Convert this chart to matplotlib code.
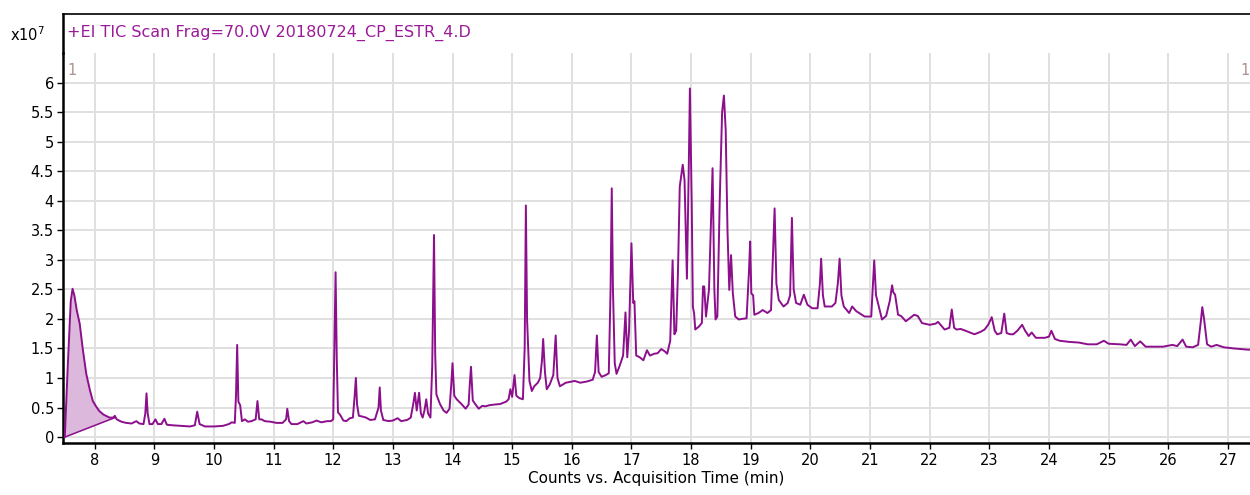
import numpy as np
import matplotlib
matplotlib.use("Agg")
import matplotlib.pyplot as plt
from matplotlib.lines import Line2D

plt.rcParams['font.family'] = ['DejaVu Sans']
plt.rcParams['mathtext.default'] = 'regular'

# chromatogram: time (min), counts (x1e7)
time_min = [
    7.50, 7.55, 7.60, 7.63, 7.66, 7.70, 7.75, 7.80, 7.86, 7.92, 7.97, 8.03, 8.08, 8.15,
    8.25, 8.31, 8.34, 8.37, 8.45, 8.53, 8.62, 8.70, 8.75, 8.82, 8.85, 8.87, 8.89, 8.92,
    8.97, 9.02, 9.06, 9.12, 9.17, 9.21, 9.30, 9.45, 9.60, 9.68, 9.72, 9.76, 9.85, 10.00,
    10.15, 10.25, 10.30, 10.35, 10.37, 10.39, 10.41, 10.44, 10.47, 10.52, 10.57, 10.63,
    10.70, 10.73, 10.76, 10.80, 10.85, 10.95, 11.05, 11.15, 11.21, 11.23, 11.26, 11.30,
    11.40, 11.50, 11.55, 11.65, 11.72, 11.80, 11.90, 11.96, 12.00, 12.02, 12.04, 12.06,
    12.08, 12.12, 12.17, 12.22, 12.28, 12.33, 12.36, 12.38, 12.40, 12.43, 12.48, 12.55,
    12.62, 12.70, 12.76, 12.78, 12.80, 12.84, 12.93, 13.00, 13.08, 13.14, 13.24, 13.30,
    13.34, 13.37, 13.40, 13.44, 13.47, 13.50, 13.53, 13.56, 13.59, 13.63, 13.66, 13.69,
    13.71, 13.73, 13.79, 13.85, 13.90, 13.95, 13.98, 14.00, 14.03, 14.07, 14.15, 14.22,
    14.27, 14.29, 14.31, 14.34, 14.38, 14.44, 14.50, 14.55, 14.62, 14.70, 14.80, 14.90,
    14.94, 14.97, 15.00, 15.04, 15.07, 15.12, 15.18, 15.21, 15.23, 15.25, 15.29, 15.33,
    15.37, 15.43, 15.47, 15.50, 15.52, 15.55, 15.58, 15.63, 15.69, 15.73, 15.76, 15.80,
    15.90, 16.05, 16.14, 16.25, 16.35, 16.39, 16.42, 16.45, 16.50, 16.57, 16.62, 16.65,
    16.67, 16.69, 16.72, 16.75, 16.80, 16.86, 16.90, 16.93, 16.96, 17.00, 17.03, 17.05,
    17.08, 17.14, 17.20, 17.26, 17.31, 17.38, 17.44, 17.50, 17.56, 17.60, 17.65, 17.69,
    17.72, 17.75, 17.78, 17.81, 17.86, 17.89, 17.93, 17.96, 17.98, 18.01, 18.03, 18.05,
    18.07, 18.13, 18.18, 18.20, 18.22, 18.25, 18.30, 18.36, 18.39, 18.41, 18.44, 18.48,
    18.52, 18.55, 18.58, 18.61, 18.64, 18.67, 18.70, 18.74, 18.80, 18.85, 18.93, 18.97,
    18.99, 19.01, 19.04, 19.06, 19.13, 19.20, 19.28, 19.34, 19.37, 19.40, 19.43, 19.47,
    19.55, 19.62, 19.66, 19.69, 19.72, 19.76, 19.83, 19.89, 19.95, 20.03, 20.12, 20.16,
    20.18, 20.21, 20.24, 20.36, 20.42, 20.46, 20.49, 20.52, 20.56, 20.65, 20.70, 20.77,
    20.91, 21.02, 21.05, 21.07, 21.10, 21.14, 21.20, 21.27, 21.33, 21.37, 21.39, 21.42,
    21.47, 21.52, 21.60, 21.74, 21.80, 21.87, 22.00, 22.10, 22.14, 22.25, 22.33, 22.37,
    22.41, 22.45, 22.52, 22.60, 22.75, 22.85, 22.92, 22.98, 23.04, 23.09, 23.13, 23.20,
    23.25, 23.29, 23.35, 23.40, 23.47, 23.55, 23.60, 23.66, 23.71, 23.78, 23.93, 24.00,
    24.04, 24.10, 24.18, 24.35, 24.50, 24.65, 24.80, 24.92, 25.00, 25.19, 25.30, 25.37,
    25.44, 25.53, 25.62, 25.91, 26.07, 26.15, 26.24, 26.30, 26.41, 26.50, 26.55, 26.57,
    26.60, 26.65, 26.72, 26.81, 26.93, 27.10, 27.33, 27.40,
]
counts = [
    0.00, 1.20, 2.30, 2.51, 2.40, 2.15, 1.92, 1.50, 1.07, 0.80, 0.61, 0.51, 0.44, 0.38,
    0.33, 0.33, 0.36, 0.30, 0.26, 0.24, 0.23, 0.27, 0.23, 0.22, 0.40, 0.74, 0.40, 0.22,
    0.22, 0.30, 0.22, 0.22, 0.31, 0.21, 0.20, 0.19, 0.18, 0.20, 0.43, 0.22, 0.18, 0.18,
    0.19, 0.22, 0.25, 0.24, 0.70, 1.56, 0.60, 0.54, 0.27, 0.30, 0.26, 0.27,
    0.30, 0.61, 0.30, 0.30, 0.27, 0.26, 0.24, 0.24, 0.30, 0.48, 0.27, 0.22,
    0.22, 0.27, 0.23, 0.25, 0.28, 0.25, 0.27, 0.27, 0.30, 1.50, 2.79, 1.30,
    0.42, 0.37, 0.28, 0.27, 0.32, 0.33, 0.70, 1.00, 0.55, 0.36, 0.35, 0.33,
    0.29, 0.30, 0.50, 0.84, 0.45, 0.29, 0.27, 0.28, 0.32, 0.27, 0.29, 0.33,
    0.55, 0.75, 0.45, 0.75, 0.40, 0.33, 0.45, 0.64, 0.40, 0.33, 1.20, 3.42,
    1.40, 0.72, 0.56, 0.45, 0.41, 0.48, 0.90, 1.25, 0.70, 0.64, 0.56, 0.48,
    0.55, 0.90, 1.19, 0.62, 0.56, 0.48, 0.53, 0.52, 0.54, 0.55, 0.56, 0.60,
    0.64, 0.81, 0.68, 1.05, 0.70, 0.66, 0.64, 1.50, 3.92, 2.00, 0.95, 0.78,
    0.86, 0.92, 1.00, 1.30, 1.66, 1.10, 0.81, 0.89, 1.05, 1.72, 1.00, 0.86,
    0.92, 0.95, 0.92, 0.94, 0.97, 1.10, 1.72, 1.10, 1.02, 1.05, 1.08, 2.50,
    4.21, 2.50, 1.25, 1.07, 1.20, 1.38, 2.11, 1.35, 1.80, 3.28, 2.27, 2.30,
    1.38, 1.35, 1.30, 1.47, 1.38, 1.41, 1.42, 1.49, 1.45, 1.41, 1.63, 2.99,
    1.74, 1.80, 2.80, 4.24, 4.61, 4.35, 2.68, 4.50, 5.90, 4.00, 2.20, 2.10,
    1.82, 1.87, 1.93, 2.55, 2.55, 2.04, 2.50, 4.55, 2.50, 1.99, 2.04, 4.00,
    5.50, 5.78, 5.20, 3.50, 2.49, 3.08, 2.43, 2.04, 1.99, 2.00, 2.01, 2.80,
    3.31, 2.43, 2.40, 2.07, 2.10, 2.15, 2.10, 2.15, 3.00, 3.87, 2.60, 2.32,
    2.21, 2.27, 2.40, 3.71, 2.50, 2.27, 2.24, 2.41, 2.24, 2.18, 2.18, 2.60,
    3.02, 2.40, 2.21, 2.21, 2.27, 2.60, 3.02, 2.40, 2.21, 2.10, 2.21, 2.13,
    2.04, 2.04, 2.60, 2.99, 2.40, 2.24, 1.99, 2.05, 2.30, 2.57, 2.45, 2.41,
    2.07, 2.05, 1.96, 2.07, 2.05, 1.93, 1.90, 1.92, 1.95, 1.82, 1.85, 2.16,
    1.85, 1.82, 1.83, 1.80, 1.74, 1.78, 1.82, 1.90, 2.03, 1.80, 1.74, 1.76,
    2.09, 1.76, 1.74, 1.74, 1.80, 1.90, 1.80, 1.71, 1.77, 1.68, 1.68, 1.70,
    1.80, 1.66, 1.63, 1.61, 1.60, 1.57, 1.57, 1.63, 1.58, 1.57, 1.56, 1.65,
    1.54, 1.62, 1.53, 1.53, 1.56, 1.54, 1.65, 1.53, 1.52, 1.56, 2.00, 2.20,
    2.00, 1.57, 1.53, 1.56, 1.52, 1.50, 1.48, 1.48,
]

# integrated first peak: start/end of its drop baseline
peak1_start = (7.50, 0.00)
peak1_end = (8.34, 0.33)

x_ticks = list(range(8, 28))
y_ticks = [0, 0.5, 1, 1.5, 2, 2.5, 3, 3.5, 4, 4.5, 5, 5.5, 6]
y_tick_labels = ['0', '0.5', '1', '1.5', '2', '2.5', '3', '3.5', '4', '4.5', '5', '5.5', '6']

title = '+EI TIC Scan Frag=70.0V 20180724_CP_ESTR_4.D'
line_col = '#8c0f8c'
fill_col = '#dcb8dc'

t = np.array(time_min)
c = np.array(counts)

fig = plt.figure(figsize=(12.5, 4.95), dpi=100)
W, H = 1250, 495
ax = fig.add_axes([63 / W, (H - 443) / H, 1 - 63 / W, (443 - 53) / H])

# shaded area of the first peak
m = t <= peak1_end[0]
base = np.interp(t[m], [peak1_start[0], peak1_end[0]], [peak1_start[1], peak1_end[1]])
ax.fill_between(t[m], base, c[m], color=fill_col, lw=0, zorder=2)
ax.plot([peak1_start[0], peak1_end[0]], [peak1_start[1], peak1_end[1]], color=line_col, lw=1.1, zorder=3)
ax.plot(t, c, color=line_col, lw=1.4, zorder=3, solid_joinstyle='round')

ax.set_xlim(7.47, 27.37)
ax.set_ylim(-0.1, 6.5)
ax.set_xticks(x_ticks)
ax.set_yticks(y_ticks)
ax.set_yticklabels(y_tick_labels)
ax.grid(True, color='#e0e0e0', lw=1.4, zorder=0)
ax.set_axisbelow(True)
for s in ['top', 'right']:
    ax.spines[s].set_visible(False)
for s in ['left', 'bottom']:
    ax.spines[s].set_linewidth(1.8)
ax.tick_params(axis='both', direction='out', length=4.5, width=1, labelsize=10.5, pad=2)
ax.tick_params(axis='x', pad=3)
ax.set_xlabel('Counts vs. Acquisition Time (min)', fontsize=11, labelpad=2)

ax.text(0.004, 0.975, '1', transform=ax.transAxes, color='#b09090', fontsize=10.5, va='top')
ax.text(0.9995, 0.975, '1', transform=ax.transAxes, color='#b09090', fontsize=10.5,
        va='top', ha='right')

# header strip with box
fig.add_artist(Line2D([63 / W, 1], [1 - 14 / H, 1 - 14 / H], color='black', lw=1.2))
fig.add_artist(Line2D([63 / W, 63 / W], [1 - 14 / H, 1 - 53 / H], color='black', lw=1.8))
fig.text(67 / W, 1 - 33 / H, title, color='#9a1a98', fontsize=11.5, va='center')
fig.text(10 / W, 1 - 35 / H, r'x10$^{7}$', fontsize=10.5, va='center')

fig.savefig('out.png', dpi=100)
